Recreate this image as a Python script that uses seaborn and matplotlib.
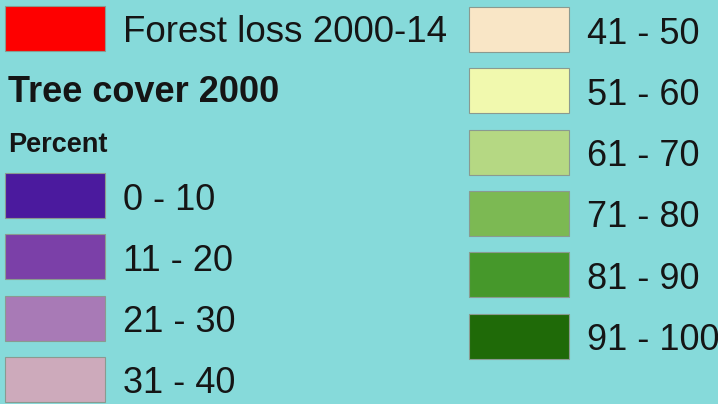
import matplotlib
matplotlib.use("Agg")
import matplotlib.pyplot as plt
import seaborn as sns

# legend entries
loss_label = "Forest loss 2000-14"
loss_color = "#fe0000"

left_labels = ["0 - 10", "11 - 20", "21 - 30", "31 - 40"]
left_colors = ["#4b1a9e", "#7b40a8", "#a87ab6", "#cdaabb"]

right_labels = ["41 - 50", "51 - 60", "61 - 70", "71 - 80", "81 - 90", "91 - 100"]
right_colors = ["#f9e6c6", "#f1f9ae", "#b5d883", "#7cb953", "#46982b", "#1f6a08"]

title = "Tree cover 2000"
subtitle = "Percent"

sns.set_theme(style="white")
plt.rcParams["font.family"] = ["Liberation Sans", "DejaVu Sans"]

BG = "#86dada"
W, H = 718, 404
fig = plt.figure(figsize=(W / 100, H / 100), dpi=100, facecolor=BG)
ax = fig.add_axes([0, 0, 1, 1])
ax.set_facecolor(BG)
ax.set_xlim(0, W)
ax.set_ylim(H, 0)
ax.axis("off")

SW_W, SW_H = 100, 45
STEP = 61.3
TXT = "#151515"


def swatch(x, top, color, label, size=26):
    ax.barh(top + SW_H / 2, SW_W, height=SW_H, left=x, color=color,
            edgecolor="#8a9a90", linewidth=0.8)
    ax.text(x + 118, top + SW_H / 2 + 14, label, fontsize=size,
            color=TXT, va="baseline", ha="left")


# forest loss row
swatch(5, 6, loss_color, loss_label, size=26.5)

ax.text(8, 102, title, fontsize=26, fontweight="bold", color=TXT, va="baseline")
ax.text(8, 152, subtitle, fontsize=19.5, fontweight="bold", color=TXT, va="baseline")

for i, (lab, col) in enumerate(zip(left_labels, left_colors)):
    swatch(5, 173 + i * STEP, col, lab)

for i, (lab, col) in enumerate(zip(right_labels, right_colors)):
    swatch(469, 7 + i * STEP, col, lab)

fig.savefig("out.png", dpi=100, facecolor=BG)
